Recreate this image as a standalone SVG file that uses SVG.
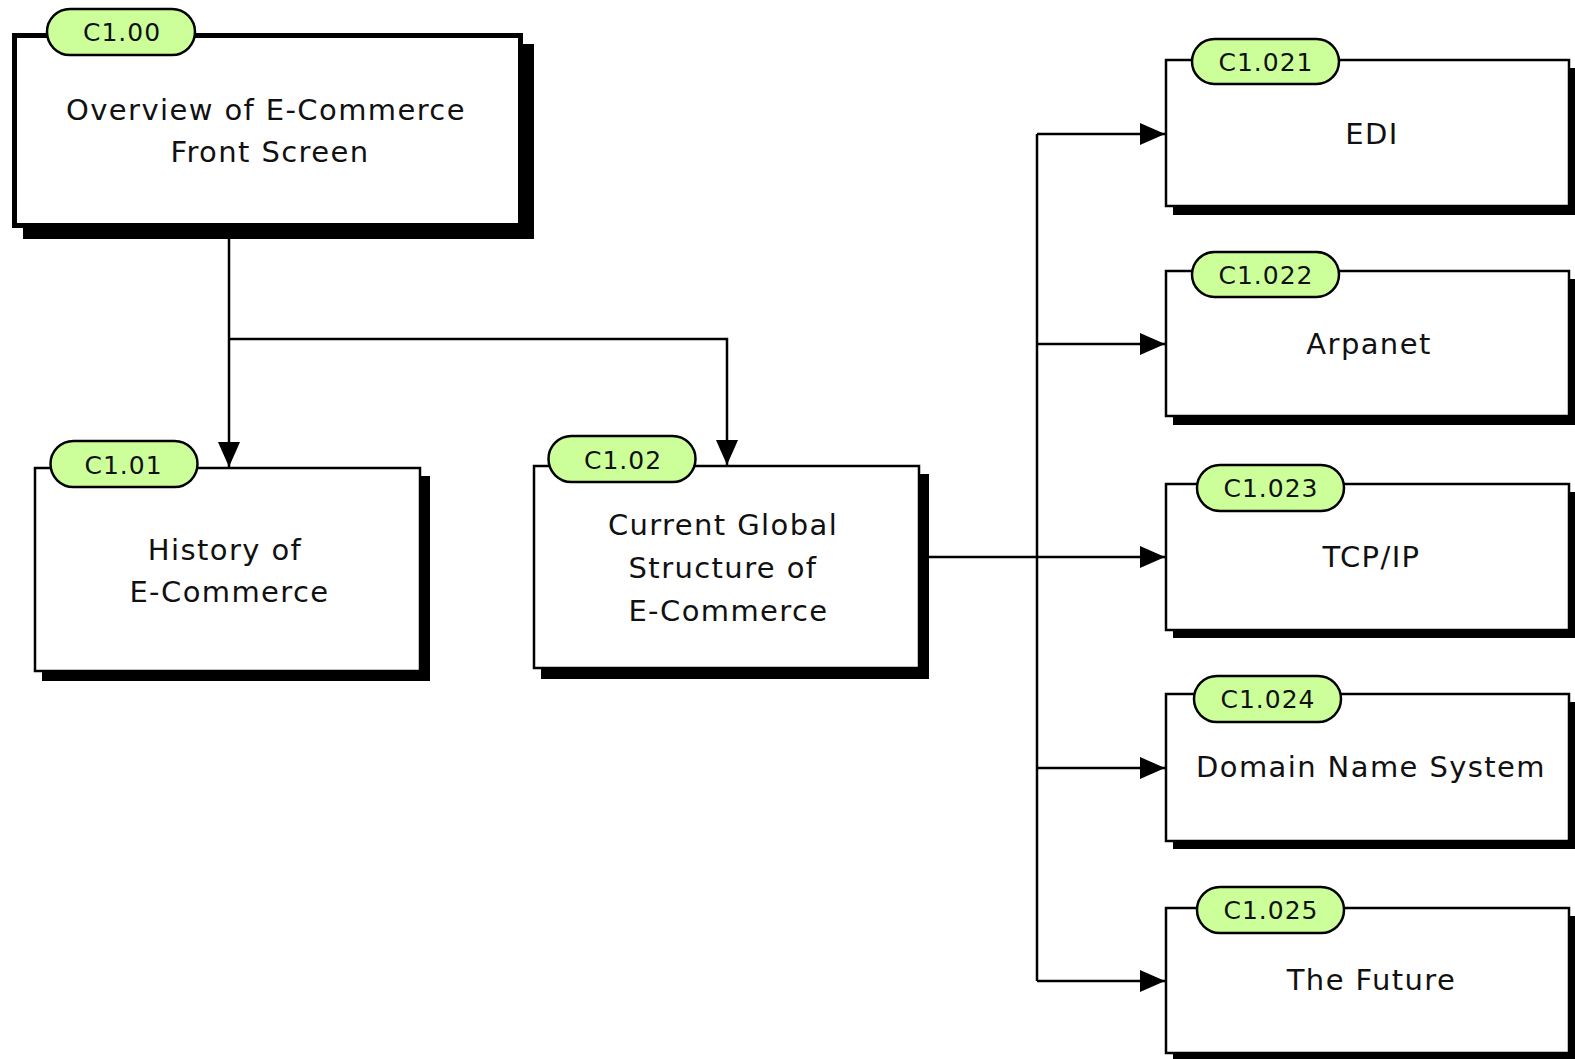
<svg xmlns="http://www.w3.org/2000/svg" width="1575" height="1059" viewBox="0 0 1575 1059">
<defs>
<marker id="arr" markerUnits="userSpaceOnUse" markerWidth="26" markerHeight="24" refX="25" refY="11" orient="auto">
<path d="M0,0 L25,11 L0,22 z" fill="#000"/>
</marker>
<style>
.box{fill:#fff;stroke:#000;stroke-width:2.5}
.shadow{fill:#000}
.pill{fill:#ccff99;stroke:#000;stroke-width:2.5}
.pt{font-family:"DejaVu Sans",Verdana,sans-serif;font-size:25px;letter-spacing:1px;fill:#111;text-anchor:middle}
.t{font-family:"DejaVu Sans",Verdana,sans-serif;font-size:29px;letter-spacing:1.4px;fill:#111;text-anchor:middle}
.conn{fill:none;stroke:#000;stroke-width:2.5}
</style>
</defs>
<rect width="1575" height="1059" fill="#fff"/>

<g id="connectors">
<path class="conn" d="M229,228 V467" marker-end="url(#arr)"/>
<path class="conn" d="M229,339 H727 V465" marker-end="url(#arr)"/>
<path class="conn" d="M929,557 H1165" marker-end="url(#arr)"/>
<path class="conn" d="M1037,134 V981"/>
<path class="conn" d="M1037,134 H1165" marker-end="url(#arr)"/>
<path class="conn" d="M1037,344 H1165" marker-end="url(#arr)"/>
<path class="conn" d="M1037,768 H1165" marker-end="url(#arr)"/>
<path class="conn" d="M1037,981 H1165" marker-end="url(#arr)"/>
</g>

<g id="C1.00">
<rect class="shadow" x="23" y="44" width="511" height="195"/>
<rect class="box" x="14.5" y="35.5" width="506" height="190" style="stroke-width:5"/>
<rect class="pill" x="47" y="9" width="148" height="46" rx="23"/>
<text class="pt" x="122" y="41">C1.00</text>
<text class="t" x="266" y="119.5">Overview of E-Commerce</text>
<text class="t" x="270" y="161.5">Front Screen</text>
</g>

<g id="C1.01">
<rect class="shadow" x="42" y="476" width="388" height="205"/>
<rect class="box" x="35" y="468" width="385" height="203"/>
<rect class="pill" x="50.5" y="441" width="147" height="46" rx="23"/>
<text class="pt" x="123.5" y="474">C1.01</text>
<text class="t" x="225" y="560">History of</text>
<text class="t" x="229.5" y="601.5">E-Commerce</text>
</g>

<g id="C1.02">
<rect class="shadow" x="541" y="474" width="388" height="205"/>
<rect class="box" x="534" y="466" width="385" height="202"/>
<rect class="pill" x="548.5" y="436" width="147" height="46" rx="23"/>
<text class="pt" x="623" y="469">C1.02</text>
<text class="t" x="723" y="535">Current Global</text>
<text class="t" x="723" y="577.5">Structure of</text>
<text class="t" x="728.5" y="620.5">E-Commerce</text>
</g>

<g id="C1.021">
<rect class="shadow" x="1173" y="68" width="402" height="147"/>
<rect class="box" x="1166" y="60" width="403" height="146"/>
<rect class="pill" x="1192" y="39" width="147" height="45" rx="22.5"/>
<text class="pt" x="1266" y="71">C1.021</text>
<text class="t" x="1372" y="143.5">EDI</text>
</g>

<g id="C1.022">
<rect class="shadow" x="1173" y="279" width="402" height="146"/>
<rect class="box" x="1166" y="271" width="403" height="145"/>
<rect class="pill" x="1192" y="252" width="147" height="45" rx="22.5"/>
<text class="pt" x="1266" y="284">C1.022</text>
<text class="t" x="1369" y="353.5">Arpanet</text>
</g>

<g id="C1.023">
<rect class="shadow" x="1173" y="492" width="402" height="146"/>
<rect class="box" x="1166" y="484" width="403" height="146"/>
<rect class="pill" x="1197" y="465" width="147" height="46" rx="23"/>
<text class="pt" x="1271" y="497">C1.023</text>
<text class="t" x="1371.5" y="566.5">TCP/IP</text>
</g>

<g id="C1.024">
<rect class="shadow" x="1173" y="702" width="402" height="147"/>
<rect class="box" x="1166" y="694" width="403" height="147"/>
<rect class="pill" x="1194" y="676" width="147" height="46" rx="23"/>
<text class="pt" x="1268" y="708">C1.024</text>
<text class="t" x="1371" y="777">Domain Name System</text>
</g>

<g id="C1.025">
<rect class="shadow" x="1173" y="916" width="402" height="143"/>
<rect class="box" x="1166" y="908" width="403" height="145"/>
<rect class="pill" x="1197" y="887" width="147" height="46" rx="23"/>
<text class="pt" x="1271" y="919">C1.025</text>
<text class="t" x="1371.5" y="990">The Future</text>
</g>
</svg>
